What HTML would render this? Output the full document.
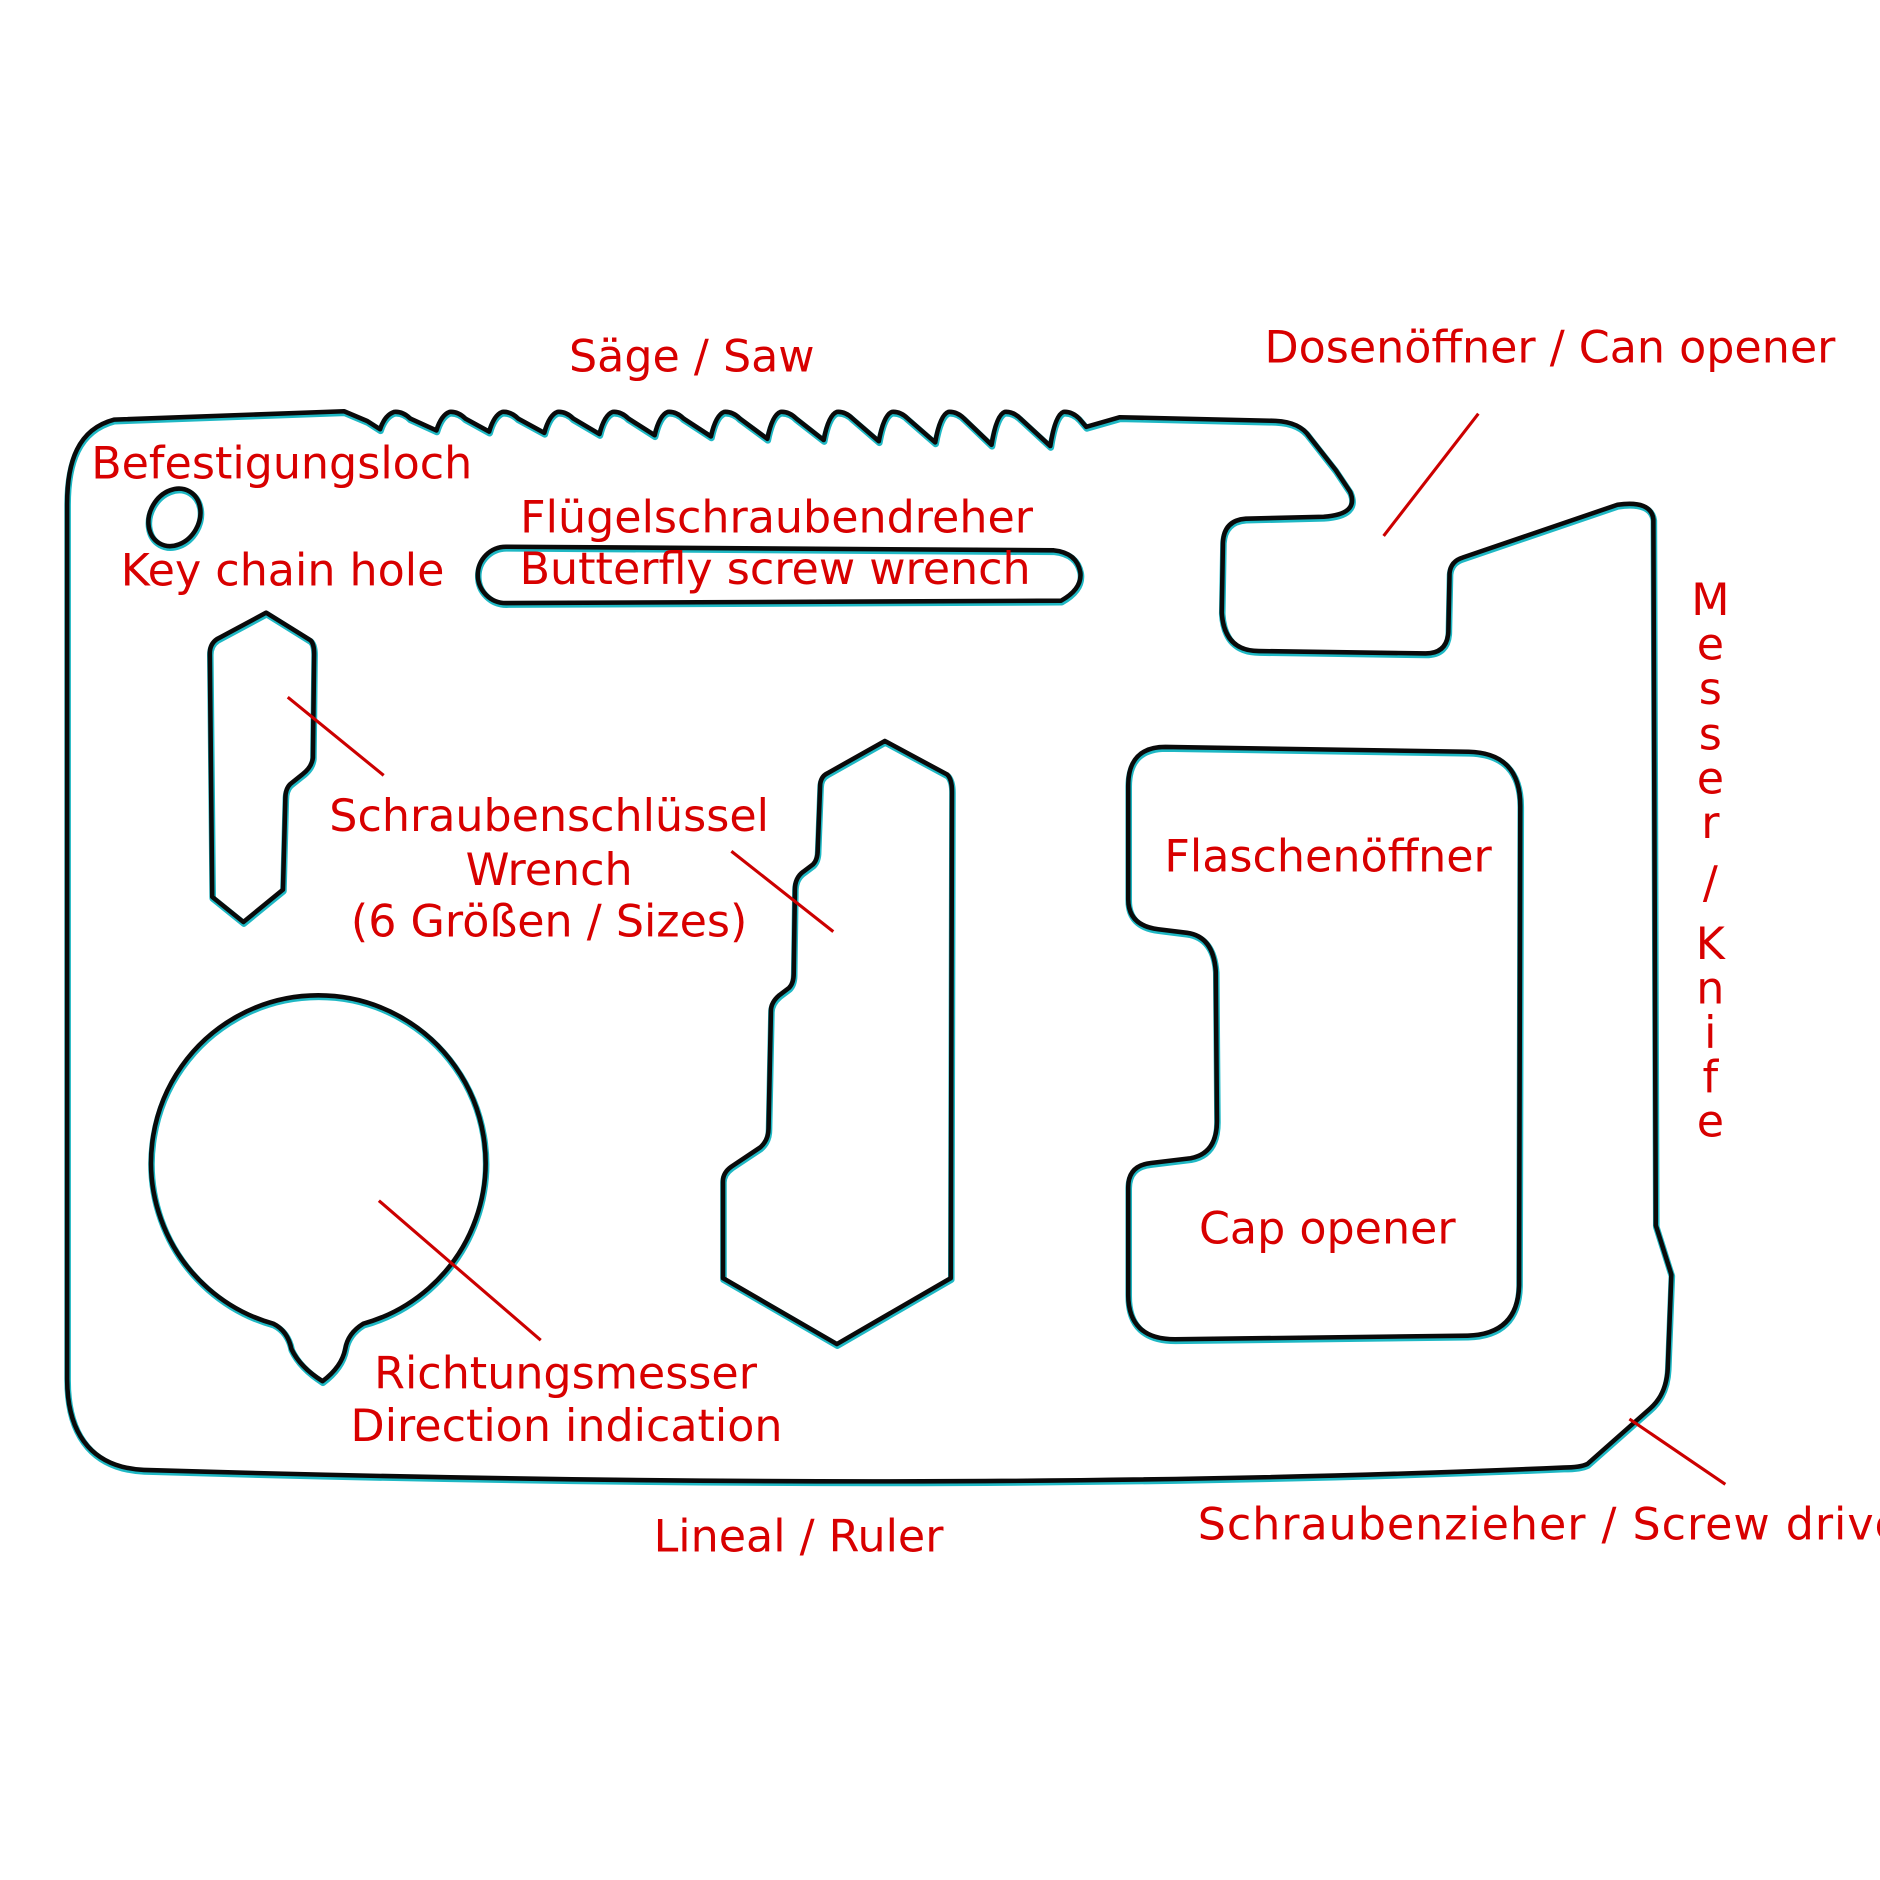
<!DOCTYPE html>
<html>
<head>
<meta charset="utf-8">
<style>
html,body{margin:0;padding:0;background:#fff;}
svg{display:block;}
text{font-family:"DejaVu Sans","Liberation Sans",sans-serif;font-size:37px;fill:#d80000;}
</style>
</head>
<body>
<svg width="1880" height="1880" viewBox="0 0 1568 1568" xmlns="http://www.w3.org/2000/svg" overflow="hidden">
<rect width="1568" height="1568" fill="#fff"/>
<defs>
<g id="shapes">
<path d="M 56 1150 L 56 420 C 56 385 65 358 95 350 L 287 343 L 306 351 L 317 358
Q321 346 329 343.5 Q336 343 342 349
L364 359 Q368 346 375 343.5 Q382 343 388 349
L408 360 Q412 346 419 343.5 Q426 343 432 349
L454 361 Q458 346 465 343.5 Q472 343 478 349
L500 362 Q504 346 511 343.5 Q518 343 524 349
L546 363 Q550 346 557 343.5 Q564 343 570 349
L593 364 Q597 346 604 343.5 Q611 343 617 349
L640 366 Q644 346 651 343.5 Q658 343 664 349
L687 367 Q691 346 698 343.5 Q705 343 711 349
L733 368 Q737 346 744 343.5 Q751 343 757 349
L780 369 Q784 346 791 343.5 Q798 343 804 349
L827 371 Q831 346 838 343.5 Q845 343 851 349
L876 372 Q880 346 887 343.5 Q894 343 900 349
L 906 356 L 934 348 L 1064 351 Q 1084 352 1092 364 L 1114 392 L 1126 410 Q 1134 429 1104 431
L 1039 432.6 Q 1021 434 1020 452 L 1019 511 Q 1021 543 1050 543 L 1189 545 Q 1207 545 1208 527
L 1209 478 Q 1210 468 1220 465 L 1349 421 Q 1377 417 1379 433 L 1381 1022 L 1394 1063 L 1391 1141
Q 1390 1163 1376 1175 L 1324 1221 Q 1318 1224 1304 1224 Q 800 1246 120 1226 C 80 1224 56 1200 56 1150 Z"/>
<ellipse cx="145.5" cy="431.5" rx="25" ry="20.5" transform="rotate(-60 145.5 431.5)"/>
<path d="M 422 456 L 879 459 Q 898 461 901 477 Q 903 491 885 501 L 422 503 A 23.5 23.5 0 0 1 422 456 Z"/>
<path d="M 222 511 L 259 534 Q 262 537 262 545 L 261 632 Q 260 640 252 646 L 242 654 Q 238 658 238 666 L 236 742 L 203 769 L 177 748 L 175 545 Q 175 537 181 533 Z"/>
<path d="M 738 618 L 790 646 Q 794 650 794 660 L 793 1066 L 698 1121 L 603 1066 L 603 985 Q 603 978 610 973 L 634 957 Q 641 951 641 941 L 643 843 Q 643 836 650 830 L 658 824 Q 662 820 662 812 L 663 742 Q 663 732 670 727 L 678 721 Q 682 717 682 709 L 684 656 Q 684 648 690 645 Z"/>
<path d="M 972 623 L 1225 627 Q 1268 628 1268 672 L 1267 1072 Q 1266 1113 1224 1114 L 980 1117 Q 941 1117 941 1080 L 941 990 Q 941 972 960 970 L 993 966 Q 1015 962 1015 935 L 1014 810 Q 1012 781 990 778 L 966 775 Q 941 772 941 750 L 941 655 Q 941 623 972 623 Z"/>
<path d="M 228 1104 A 139.5 139.5 0 1 1 303 1104 Q 290 1112 288 1125 Q 285 1140 269 1152 Q 250 1140 243 1125 Q 240 1110 228 1104 Z"/>
</g>
</defs>
<use href="#shapes" fill="none" stroke="#1fb8c4" stroke-width="5.5" transform="translate(0.4 1.3)" stroke-linejoin="round"/>
<use href="#shapes" fill="none" stroke="#0a0a0a" stroke-width="3.8" stroke-linejoin="round"/>

<g stroke="#cc0000" stroke-width="2.6" fill="none">
<line x1="1233" y1="345" x2="1154" y2="447"/>
<line x1="240" y1="581.5" x2="320" y2="646.7"/>
<line x1="610" y1="710" x2="695" y2="777"/>
<line x1="316" y1="1001.4" x2="451" y2="1117.8"/>
<line x1="1359" y1="1183.5" x2="1439" y2="1238"/>
</g>

<g text-anchor="middle">
<text x="577" y="310">Säge / Saw</text>
<text x="1292.7" y="302.5">Dosenöffner / Can opener</text>
<text x="235" y="399">Befestigungsloch</text>
<text x="647.7" y="444">Flügelschraubendreher</text>
<text x="235.7" y="488.5">Key chain hole</text>
<text x="646.5" y="487">Butterfly screw wrench</text>
<text x="458" y="693">Schraubenschlüssel</text>
<text x="458" y="738">Wrench</text>
<text x="458" y="781">(6 Größen / Sizes)</text>
<text x="1107.7" y="727">Flaschenöffner</text>
<text x="1107" y="1037">Cap opener</text>
<text x="471.7" y="1158">Richtungsmesser</text>
<text x="472.5" y="1202">Direction indication</text>
<text x="666" y="1294">Lineal / Ruler</text>
<text x="1426.5" y="513">M</text>
<text x="1426.5" y="550">e</text>
<text x="1426.5" y="587">s</text>
<text x="1426.5" y="625">s</text>
<text x="1426.5" y="662">e</text>
<text x="1426.5" y="699">r</text>
<text x="1426.5" y="749">/</text>
<text x="1426.5" y="800">K</text>
<text x="1426.5" y="837">n</text>
<text x="1426.5" y="874">i</text>
<text x="1426.5" y="911">f</text>
<text x="1426.5" y="948">e</text>
</g>
<text x="999" y="1284" letter-spacing="0.8">Schraubenzieher / Screw driver</text>
</svg>
</body>
</html>
